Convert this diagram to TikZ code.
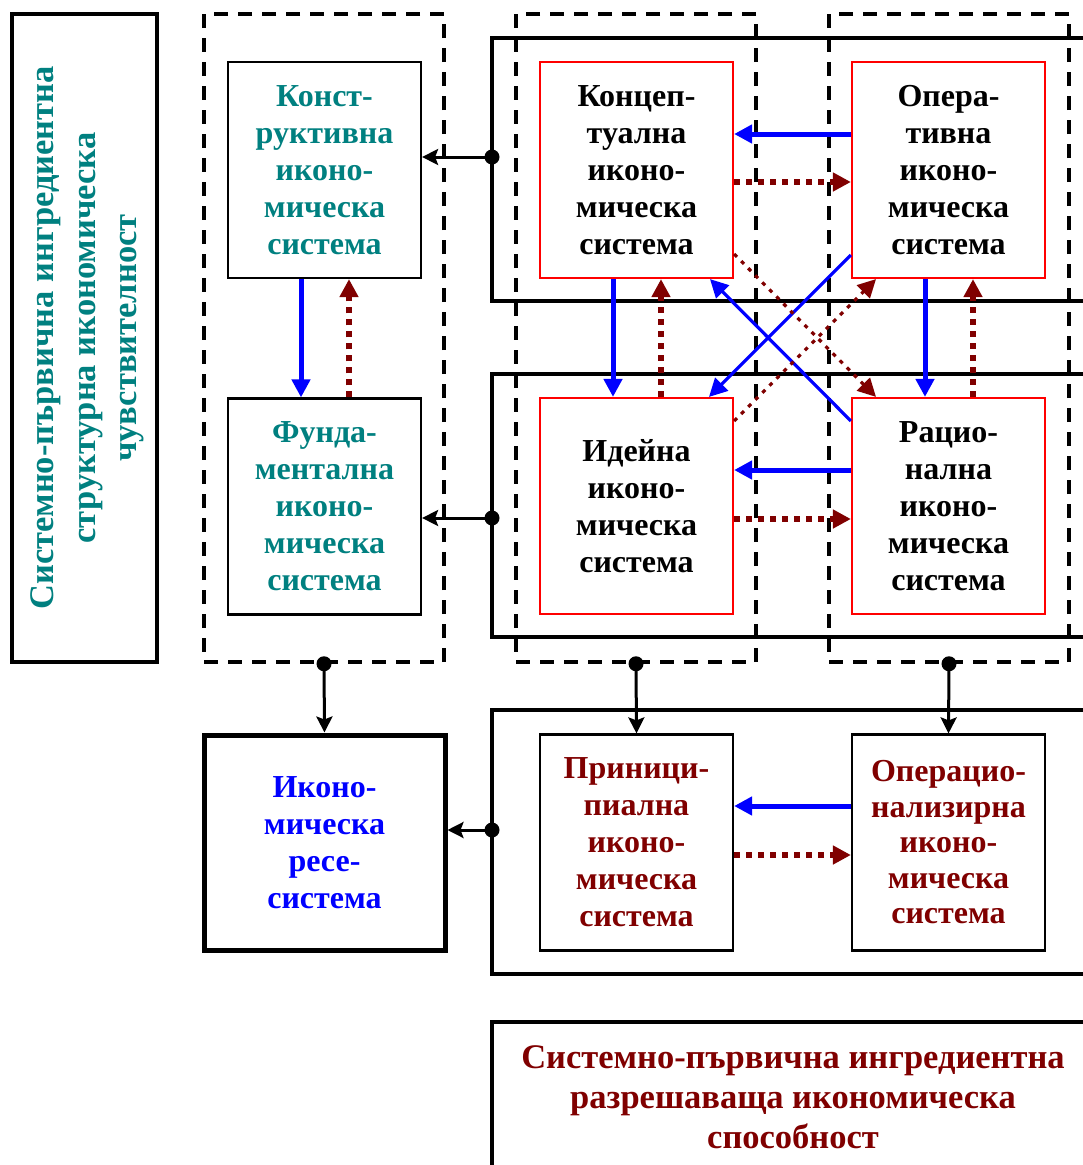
\documentclass[tikz,border=0pt]{standalone}
\usepackage{fontspec}
\setmainfont{Liberation Serif}
\usetikzlibrary{arrows.meta}
\definecolor{tealink}{RGB}{0,128,128}
\definecolor{flowred}{RGB}{128,0,0}
\tikzset{
  sysbox/.style={draw,line width=2.2pt,minimum width=193pt,minimum height=216pt,
    align=center,inner sep=0pt,font=\fontsize{32}{37}\selectfont\bfseries},
  redbox/.style={sysbox,draw=red},
  rowframe/.style={draw,line width=3.5pt},
  groupframe/.style={draw,line width=3.5pt,dash pattern=on 14pt off 10pt},
  tap/.style={circle,fill,inner sep=0pt,minimum size=15pt},
  link/.style={line width=3pt,-{Stealth[length=16pt,width=16pt,inset=3pt]}},
  blueflow/.style={draw=blue,line width=5pt,-{Triangle[length=18pt,width=18pt]}},
  redflow/.style={draw=flowred,line width=5.5pt,dash pattern=on 6pt off 6pt,
    -{Triangle[length=18pt,width=18pt]}},
}
\begin{document}
\begin{tikzpicture}[x=1pt,y=-1pt]
\clip (0,0) rectangle (1083,1165);
\fill[white] (0,0) rectangle (1083,1165);

%LEFT LABEL
  \node (sense) at (84.5,338) [draw,line width=4.5pt,minimum width=145pt,minimum height=648pt] {};
  \node (senselabel) at ([xshift=3]sense.center) [rotate=90,align=center,text=tealink,
    font=\fontsize{34.5}{41.5}\selectfont\bfseries]
    {Системно-първична ингредиентна\\структурна икономическа\\чувствителност};

%FRAMES
  \node (toprow) at (796,169.5) [rowframe,minimum width=608pt,minimum height=263pt] {};
  \node (lowrow) at (796,505.5) [rowframe,minimum width=608pt,minimum height=263pt] {};
  \node (botrow) at (796,842) [rowframe,minimum width=608pt,minimum height=264pt] {};
  \node (leftgrp) at (324,338) [groupframe,minimum width=240pt,minimum height=648pt] {};
  \node (midgrp) at (636,338) [groupframe,minimum width=240pt,minimum height=648pt] {};
  \node (rightgrp) at (949,338) [groupframe,minimum width=240pt,minimum height=648pt] {};

%SYSTEMS
  \node (konst) at (324.5,170) [sysbox,text=tealink] {Конст-\\руктивна\\иконо-\\мическа\\система};
  \node (funda) at (324.5,506.5) [sysbox,text=tealink] {Фунда-\\ментална\\иконо-\\мическа\\система};
  \node (concep) at (636.5,170) [redbox] {Концеп-\\туална\\иконо-\\мическа\\система};
  \node (opera) at (948.5,170) [redbox] {Опера-\\тивна\\иконо-\\мическа\\система};
  \node (idea) at (636.5,506) [redbox] {Идейна\\иконо-\\мическа\\система};
  \node (ratio) at (948.5,506) [redbox] {Рацио-\\нална\\иконо-\\мическа\\система};
  \node (ikono) at (324.5,842.5) [sysbox,line width=5pt,minimum width=241pt,
    minimum height=215pt,text=blue] {Иконо-\\мическа\\ресе-\\система};
  \node (princ) at (636.5,842.5) [sysbox,text=flowred] {Приници-\\пиална\\иконо-\\мическа\\система};
  \node (operac) at (948.5,842.5) [sysbox,text=flowred,
    font=\fontsize{32}{35.5}\selectfont\bfseries] {Операцио-\\нализирна\\иконо-\\мическа\\система};
  \node (ability) at (793,1097) [draw,line width=3.5pt,minimum width=602pt,minimum height=150pt,
    align=center,text=flowred,font=\fontsize{34.5}{40}\selectfont\bfseries]
    {Системно-първична ингредиентна\\разрешаваща икономическа\\способност};

%TAPS
  \node (toptap) at (492,157) [tap] {};
  \node (lowtap) at (492,518) [tap] {};
  \node (bottap) at (492,830) [tap] {};
  \node (lefttap) at (leftgrp.south) [tap] {};
  \node (midtap) at (midgrp.south) [tap] {};
  \node (righttap) at (rightgrp.south) [tap] {};
  \draw[link] (toptap.center) -- (konst.east |- toptap);
  \draw[link] (lowtap.center) -- (funda.east |- lowtap);
  \draw[link] (bottap.center) -- (ikono.east |- bottap);
  \draw[link] (lefttap.center) -- (ikono.north);
  \draw[link] (midtap.center) -- (princ.north);
  \draw[link] (righttap.center) -- (operac.north);

%FLOWS
  \draw[blueflow] ([xshift=-23.5]konst.south) -- ([xshift=-23.5]funda.north);
  \draw[redflow] ([xshift=24.5]funda.north) -- ([xshift=24.5]konst.south);
  \draw[blueflow] ([yshift=36]opera.west) -- ([yshift=36]concep.east);
  \draw[redflow] ([yshift=-12]concep.east) -- ([yshift=-12]opera.west);
  \draw[blueflow] ([xshift=-23.5]concep.south) -- ([xshift=-23.5]idea.north);
  \draw[redflow] ([xshift=24.5]idea.north) -- ([xshift=24.5]concep.south);
  \draw[blueflow] ([xshift=-23.5]opera.south) -- ([xshift=-23.5]ratio.north);
  \draw[redflow] ([xshift=24.5]ratio.north) -- ([xshift=24.5]opera.south);
  \draw[blueflow] ([yshift=36]ratio.west) -- ([yshift=36]idea.east);
  \draw[redflow] ([yshift=-13]idea.east) -- ([yshift=-13]ratio.west);
  \draw[blueflow] ([yshift=36.5]operac.west) -- ([yshift=36.5]princ.east);
  \draw[redflow] ([yshift=-12.5]princ.east) -- ([yshift=-12.5]operac.west);

%CROSSING
  \draw[blueflow,line width=3.2pt] ([yshift=-85]opera.west) -- ([xshift=72.5]idea.north);
  \draw[blueflow,line width=3.2pt] ([yshift=85]ratio.west) -- ([xshift=73.5]concep.south);
  \draw[redflow,line width=3.2pt,dash pattern=on 4pt off 6pt] ([yshift=-84]concep.east) -- ([xshift=-72.5]ratio.north);
  \draw[redflow,line width=3.2pt,dash pattern=on 4pt off 6pt] ([yshift=85]idea.east) -- ([xshift=-72.5]opera.south);
\end{tikzpicture}
\end{document}
